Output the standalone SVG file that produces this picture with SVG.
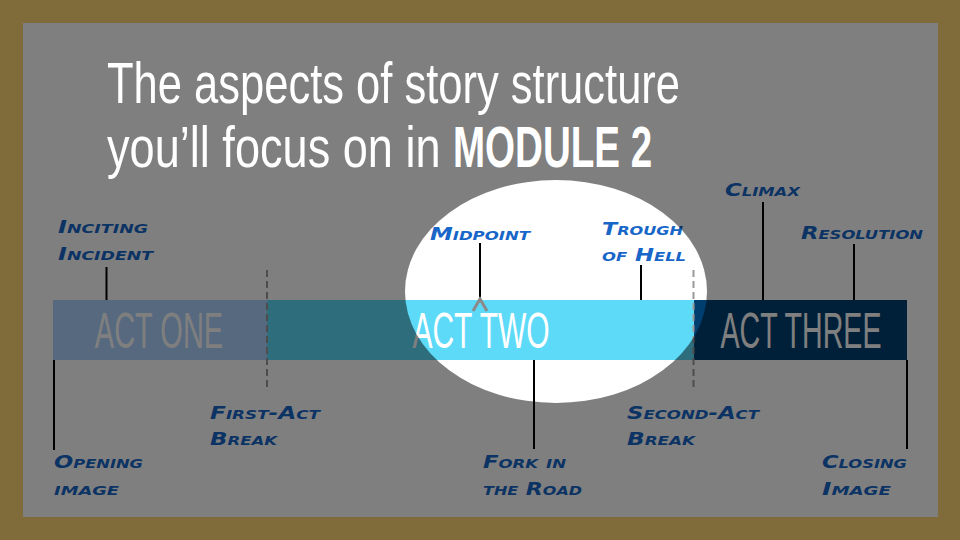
<svg xmlns="http://www.w3.org/2000/svg" width="960" height="540" viewBox="0 0 960 540">
<style>
.lbl{font-family:"DejaVu Sans","Liberation Sans",sans-serif;font-weight:bold;font-style:italic;font-variant:small-caps;font-size:18px;fill:#1766c8;}
.act{font-family:"Liberation Sans",Arial,sans-serif;font-size:50px;fill:#ffffff;text-anchor:middle;}
.title{font-family:"Liberation Sans",Arial,sans-serif;font-size:57px;fill:#ffffff;}
.tick{stroke:#000;stroke-width:2;fill:none;}
.dash{stroke:#9a9a9a;stroke-width:2;stroke-dasharray:7 4;fill:none;}
</style>
<rect x="0" y="0" width="960" height="540" fill="#806b3a"/>
<rect x="23" y="23" width="915" height="494" fill="#ffffff"/>
<g id="act-one"><rect x="53" y="300" width="214" height="60" fill="#acd2fe"/><text class="act" transform="translate(159,348) scale(0.58,1)">ACT ONE</text></g>
<g id="act-two"><rect x="267" y="300" width="427" height="60" fill="#5ddaf8"/><text class="act" transform="translate(481,348) scale(0.6,1)">ACT TWO</text></g>
<g id="act-three"><rect x="694" y="300" width="213" height="60" fill="#003e70"/><text class="act" transform="translate(801,348) scale(0.572,1)">ACT THREE</text></g>
<g id="connectors">
<line class="tick" x1="106.5" y1="267" x2="106.5" y2="300"/>
<line class="tick" x1="54" y1="360" x2="54" y2="450"/>
<line class="dash" x1="267" y1="270" x2="267" y2="388"/>
<line class="tick" x1="480" y1="243" x2="480" y2="298"/>
<polyline points="473,311 480,299 487,311" fill="none" stroke="#8a8a8a" stroke-width="3"/>
<line class="tick" x1="641" y1="265" x2="641" y2="300"/>
<line class="tick" x1="534" y1="360" x2="534" y2="449"/>
<line class="dash" x1="693.5" y1="270" x2="693.5" y2="388"/>
<line class="tick" x1="763" y1="202" x2="763" y2="300"/>
<line class="tick" x1="854" y1="244" x2="854" y2="300"/>
<line class="tick" x1="907" y1="360" x2="907" y2="449"/>
</g>
<g id="inciting-incident"><text class="lbl" x="58" y="233" textLength="90" lengthAdjust="spacingAndGlyphs">Inciting</text><text class="lbl" x="58" y="260" textLength="95" lengthAdjust="spacingAndGlyphs">Incident</text></g>
<g id="opening-image"><text class="lbl" x="54" y="468" textLength="89" lengthAdjust="spacingAndGlyphs">Opening</text><text class="lbl" x="54" y="495" textLength="65" lengthAdjust="spacingAndGlyphs">image</text></g>
<g id="first-act-break"><text class="lbl" x="210" y="419" textLength="110" lengthAdjust="spacingAndGlyphs">First-Act</text><text class="lbl" x="210" y="445" textLength="67" lengthAdjust="spacingAndGlyphs">Break</text></g>
<g id="midpoint"><text class="lbl" x="430" y="240" textLength="100" lengthAdjust="spacingAndGlyphs">Midpoint</text></g>
<g id="trough-of-hell"><text class="lbl" x="602" y="235" textLength="81" lengthAdjust="spacingAndGlyphs">Trough</text><text class="lbl" x="602" y="261" textLength="84" lengthAdjust="spacingAndGlyphs">of Hell</text></g>
<g id="fork-in-the-road"><text class="lbl" x="483" y="468" textLength="83" lengthAdjust="spacingAndGlyphs">Fork in</text><text class="lbl" x="483" y="495" textLength="99" lengthAdjust="spacingAndGlyphs">the Road</text></g>
<g id="second-act-break"><text class="lbl" x="627" y="419" textLength="132" lengthAdjust="spacingAndGlyphs">Second-Act</text><text class="lbl" x="627" y="445" textLength="68" lengthAdjust="spacingAndGlyphs">Break</text></g>
<g id="climax"><text class="lbl" x="725" y="196" textLength="75" lengthAdjust="spacingAndGlyphs">Climax</text></g>
<g id="resolution"><text class="lbl" x="801" y="239" textLength="122" lengthAdjust="spacingAndGlyphs">Resolution</text></g>
<g id="closing-image"><text class="lbl" x="822" y="468" textLength="85" lengthAdjust="spacingAndGlyphs">Closing</text><text class="lbl" x="822" y="495" textLength="69" lengthAdjust="spacingAndGlyphs">Image</text></g>
<path id="overlay" fill="#000" fill-opacity="0.5" fill-rule="evenodd" d="M23 23H938V517H23Z M405 291.5a151 111.5 0 1 0 302 0a151 111.5 0 1 0 -302 0Z"/>
<g id="title">
<text class="title" transform="translate(107,103) scale(0.76,1)" textLength="754" lengthAdjust="spacingAndGlyphs">The aspects of story structure</text>
<text class="title" transform="translate(107,167) scale(0.76,1)" textLength="439" lengthAdjust="spacingAndGlyphs">you’ll focus on in</text>
<text class="title" transform="translate(453,167) scale(0.76,1)" font-weight="bold" textLength="262" lengthAdjust="spacingAndGlyphs">MODULE 2</text>
</g>
</svg>
